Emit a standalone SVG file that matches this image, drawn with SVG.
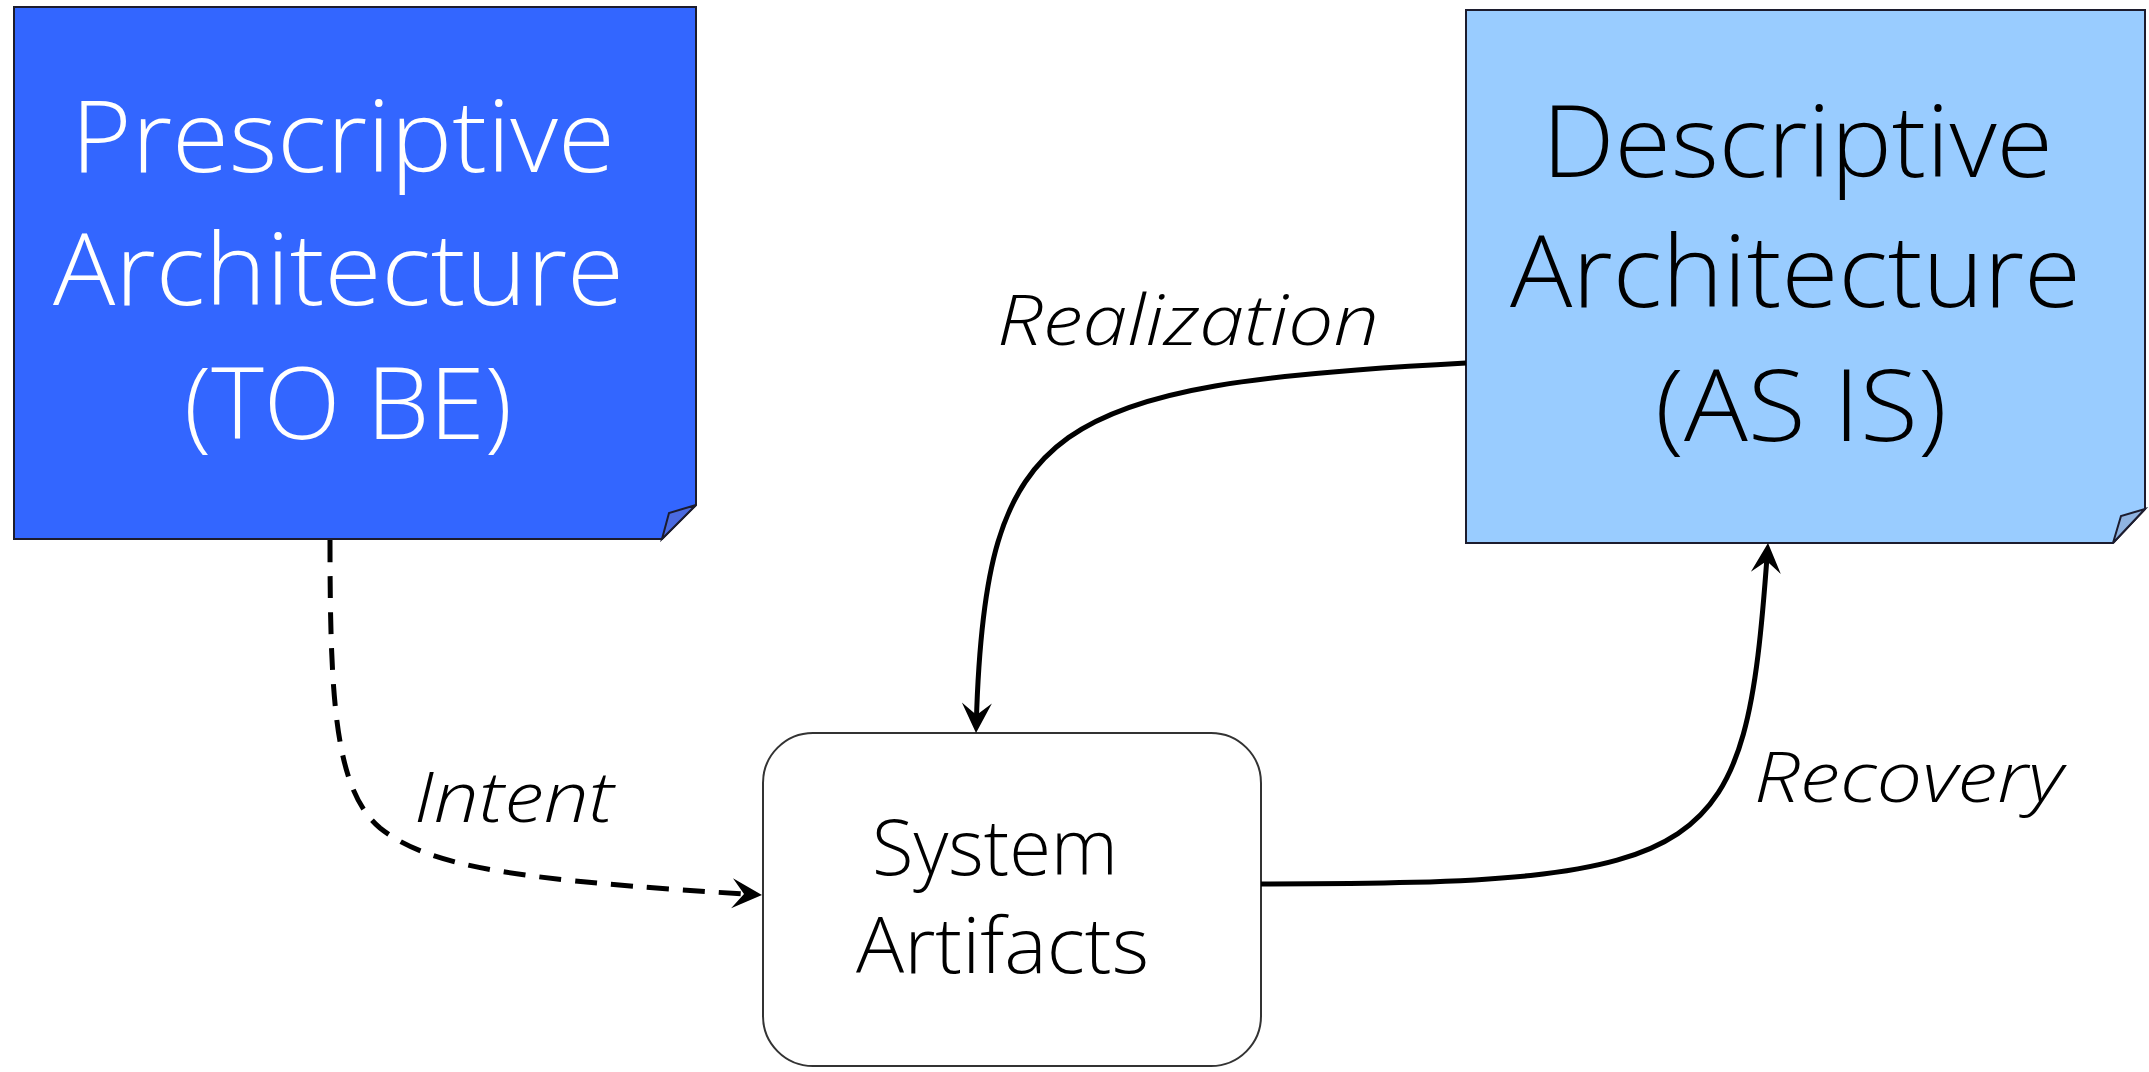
<svg xmlns="http://www.w3.org/2000/svg" width="2149" height="1072" viewBox="0 0 2149 1072">
  <style>
    .box { stroke: #1c1c2e; stroke-width: 2; stroke-linejoin: miter; }
    .big { font-family: "Open Sans", "Noto Sans", "Liberation Sans", sans-serif; font-weight: 300; font-size: 100px; }
    .mid { font-family: "Open Sans", "Noto Sans", "Liberation Sans", sans-serif; font-weight: 300; font-size: 78px; fill: #000; }
    .lbl { font-family: "Open Sans", "Noto Sans", "Liberation Sans", sans-serif; font-style: italic; font-weight: 300; font-size: 70px; fill: #000; }
    .conn { fill: none; stroke: #000; stroke-width: 5; }
    .dash { stroke-dasharray: 22 14; }
  </style>
  <defs>
    <marker id="arrow" viewBox="-22 -17 34 34" refX="0" refY="0" markerWidth="34" markerHeight="34" markerUnits="userSpaceOnUse" orient="auto">
      <path d="M10,0 L-20,-15 L-8,0 L-20,15 Z" fill="#000"/>
    </marker>
  </defs>
  <rect width="2149" height="1072" fill="#fff"/>

  <g id="prescriptive">
    <path class="box" d="M14 7 H696 V505 L662 539 H14 Z" fill="#3366ff"/>
    <path class="box" d="M662 539 L669 513 L696 505 Z" fill="#4a6ae0"/>
    <text class="big" fill="#fff" x="71" y="172" textLength="544" lengthAdjust="spacingAndGlyphs">Prescriptive</text>
    <text class="big" fill="#fff" x="53" y="305" textLength="571" lengthAdjust="spacingAndGlyphs">Architecture</text>
    <text class="big" fill="#fff" x="184" y="439" textLength="328" lengthAdjust="spacingAndGlyphs">(TO BE)</text>
  </g>

  <g id="descriptive">
    <path class="box" d="M1466 10 H2145 V509 L2113 543 H1466 Z" fill="#99ccff"/>
    <path class="box" d="M2113 543 L2121 516 L2145 509 Z" fill="#8fb3e0"/>
    <text class="big" fill="#000" x="1542" y="177" textLength="511" lengthAdjust="spacingAndGlyphs">Descriptive</text>
    <text class="big" fill="#000" x="1510" y="307" textLength="571" lengthAdjust="spacingAndGlyphs">Architecture</text>
    <text class="big" fill="#000" x="1655" y="441" textLength="292" lengthAdjust="spacingAndGlyphs">(AS IS)</text>
  </g>

  <g id="system-artifacts">
    <rect x="763" y="733" width="498" height="333" rx="50" ry="50" fill="#fff" stroke="#333" stroke-width="2"/>
    <text class="mid" x="872" y="875" textLength="246" lengthAdjust="spacingAndGlyphs">System</text>
    <text class="mid" x="856" y="973" textLength="293" lengthAdjust="spacingAndGlyphs">Artifacts</text>
  </g>

  <g id="connectors">
    <path class="conn dash" d="M330 540 C330 700, 335 790, 380 828 C430 868, 520 880, 752 894.5" marker-end="url(#arrow)"/>
    <path class="conn" d="M1466 363 C1050 385, 985 420, 976.3 723" marker-end="url(#arrow)"/>
    <path class="conn" d="M1261 884 C1720 884, 1745 860, 1767.3 553" marker-end="url(#arrow)"/>
  </g>

  <g id="labels">
    <text class="lbl" x="414" y="822" textLength="200" lengthAdjust="spacingAndGlyphs">Intent</text>
    <text class="lbl" x="997" y="345" textLength="382" lengthAdjust="spacingAndGlyphs">Realization</text>
    <text class="lbl" x="1754" y="802" textLength="309" lengthAdjust="spacingAndGlyphs">Recovery</text>
  </g>
</svg>
